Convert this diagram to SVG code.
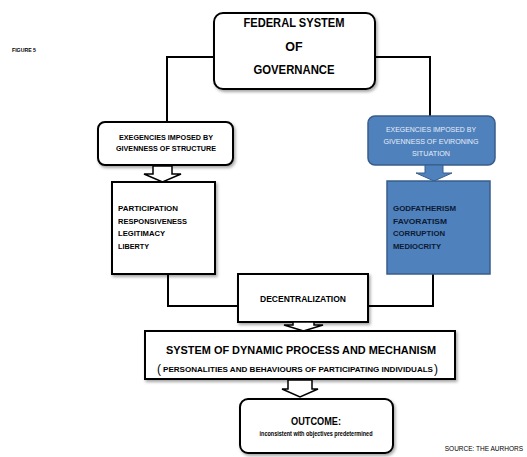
<svg xmlns="http://www.w3.org/2000/svg" width="527" height="457" viewBox="0 0 527 457">
<defs>
<filter id="sh" x="-10%" y="-10%" width="130%" height="140%">
<feDropShadow dx="1.5" dy="2" stdDeviation="1.5" flood-color="#000" flood-opacity="0.35"/>
</filter>
</defs>
<style>
text{font-family:"Liberation Sans",Arial,sans-serif;font-weight:bold;fill:#000}
.box{fill:#fff;stroke:#000;stroke-width:2}
.blue{fill:#4F81BD;stroke:#385D8A;stroke-width:1.5}
.conn{fill:none;stroke:#000;stroke-width:2}
.arr{fill:#fff;stroke:#000;stroke-width:1.5}
.barr{fill:#4F81BD;stroke:#385D8A;stroke-width:1}
.c{text-anchor:middle}
.lt{fill:#E8EEF7;font-weight:normal}
.dk{fill:#0d1a33}
</style>
<rect width="527" height="457" fill="#fff"/>
<text x="12" y="52" font-size="6" textLength="24" lengthAdjust="spacingAndGlyphs">FIGURE 5</text>
<g id="connectors">
<polyline class="conn" points="214,57 167,57 167,122"/>
<polyline class="conn" points="374,57 430,57 430,116"/>
<polyline class="conn" points="168,274 168,306 238,306"/>
<polyline class="conn" points="368,306 433,306 433,274"/>
</g>
<g id="federal">
<rect class="box" x="214" y="13" width="161" height="76" rx="9" filter="url(#sh)"/>
<text class="c" x="294" y="27" font-size="12.5" textLength="101" lengthAdjust="spacingAndGlyphs">FEDERAL SYSTEM</text>
<text class="c" x="294" y="51" font-size="12.5">OF</text>
<text class="c" x="294" y="74" font-size="12.5" textLength="81" lengthAdjust="spacingAndGlyphs">GOVERNANCE</text>
</g>
<g id="exig-structure">
<rect class="box" x="98" y="122" width="135" height="43" rx="7" filter="url(#sh)"/>
<text class="c" x="166" y="140" font-size="6.5" textLength="94" lengthAdjust="spacingAndGlyphs">EXEGENCIES IMPOSED BY</text>
<text class="c" x="166" y="151" font-size="6.5" textLength="100" lengthAdjust="spacingAndGlyphs">GIVENNESS OF STRUCTURE</text>
<polygon class="arr" points="153,166 172,166 172,174 181,174 162.5,182 144,174 153,174"/>
</g>
<g id="list-left">
<rect class="box" x="112" y="182" width="103" height="92" filter="url(#sh)"/>
<text x="118" y="211" font-size="7" textLength="60" lengthAdjust="spacingAndGlyphs">PARTICIPATION</text>
<text x="118" y="224" font-size="7" textLength="69" lengthAdjust="spacingAndGlyphs">RESPONSIVENESS</text>
<text x="118" y="236" font-size="7" textLength="47" lengthAdjust="spacingAndGlyphs">LEGITIMACY</text>
<text x="118" y="249" font-size="7" textLength="31" lengthAdjust="spacingAndGlyphs">LIBERTY</text>
</g>
<g id="exig-situation">
<rect class="blue" x="368" y="116" width="127" height="49" rx="7"/>
<text class="c lt" x="431" y="132" font-size="7" textLength="90" lengthAdjust="spacingAndGlyphs">EXEGENCIES IMPOSED BY</text>
<text class="c lt" x="431" y="144" font-size="7" textLength="95" lengthAdjust="spacingAndGlyphs">GIVENNESS OF EVIRONING</text>
<text class="c lt" x="431" y="156" font-size="7" textLength="38" lengthAdjust="spacingAndGlyphs">SITUATION</text>
<polygon class="barr" points="425,165 443,165 443,173 452,173 434,181 416,173 425,173"/>
</g>
<g id="list-right">
<rect class="blue" x="387" y="181" width="103" height="93"/>
<text class="dk" x="393" y="211" font-size="7" textLength="63" lengthAdjust="spacingAndGlyphs">GODFATHERISM</text>
<text class="dk" x="393" y="224" font-size="7" textLength="54" lengthAdjust="spacingAndGlyphs">FAVORATISM</text>
<text class="dk" x="393" y="236" font-size="7" textLength="52" lengthAdjust="spacingAndGlyphs">CORRUPTION</text>
<text class="dk" x="393" y="249" font-size="7" textLength="48" lengthAdjust="spacingAndGlyphs">MEDIOCRITY</text>
</g>
<g id="decentralization">
<rect class="box" x="238" y="274" width="130" height="48" filter="url(#sh)"/>
<text class="c" x="303" y="302" font-size="9" textLength="86" lengthAdjust="spacingAndGlyphs">DECENTRALIZATION</text>
<polygon class="arr" points="293,322 314,322 314,325 323,325 303.5,331 284,325 293,325"/>
</g>
<g id="system">
<rect class="box" x="145" y="331" width="310" height="48" filter="url(#sh)"/>
<text class="c" x="301" y="354" font-size="10" textLength="270" lengthAdjust="spacingAndGlyphs">SYSTEM OF DYNAMIC PROCESS AND MECHANISM</text>
<text x="157" y="373" font-size="12" style="font-weight:normal">(</text>
<text x="163" y="372" font-size="7" textLength="270" lengthAdjust="spacingAndGlyphs">PERSONALITIES AND BEHAVIOURS OF PARTICIPATING INDIVIDUALS</text>
<text x="434" y="373" font-size="12" style="font-weight:normal">)</text>
<polygon class="arr" points="288,380 312,380 312,389 318,389 300,397 282,389 288,389"/>
</g>
<g id="outcome">
<rect class="box" x="240" y="399" width="153" height="54" rx="8" filter="url(#sh)"/>
<text class="c" x="316" y="425" font-size="10" textLength="50" lengthAdjust="spacingAndGlyphs">OUTCOME:</text>
<text class="c" x="316" y="436" font-size="6.5" textLength="113" lengthAdjust="spacingAndGlyphs">inconsistent with objectives predetermined</text>
</g>
<text x="523" y="451" font-size="6.5" text-anchor="end" style="font-weight:normal">SOURCE: THE AURHORS</text>
</svg>
